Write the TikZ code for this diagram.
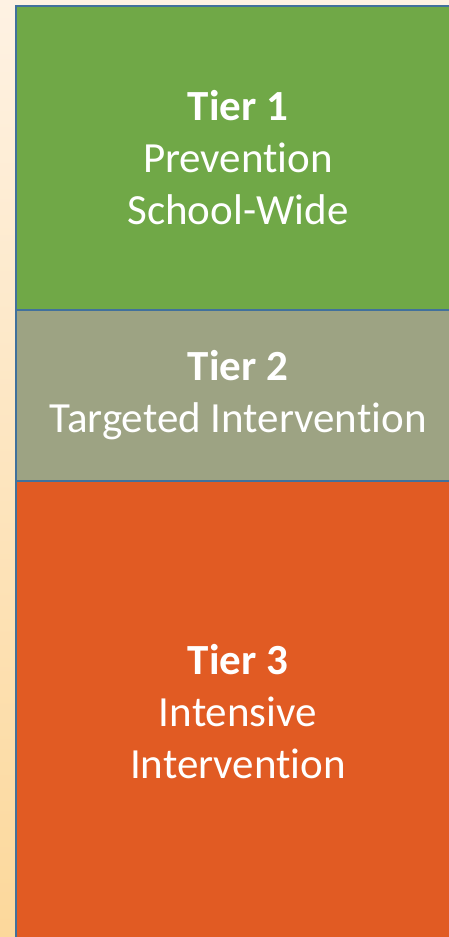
\documentclass[tikz,border=0pt]{standalone}
\usepackage{fontspec}
\setmainfont[Ligatures=NoCommon]{Carlito}
\definecolor{fundoTopo}{HTML}{FEF2E3}
\definecolor{fundoBase}{HTML}{FCD89B}
\definecolor{borda}{HTML}{41719C}
\definecolor{verde}{HTML}{70A847}
\definecolor{oliva}{HTML}{9DA383}
\definecolor{laranja}{HTML}{E15B23}
\tikzset{
  nivel/.style={draw=borda, line width=2pt, anchor=north west, minimum width=444pt,
    text=white, align=center, inner sep=0pt,
    font=\fontsize{43}{52}\selectfont}
}
\begin{document}
\begin{tikzpicture}[x=1pt, y=-1pt]
        \useasboundingbox (0,0) rectangle (449,937);
        \clip (0,0) rectangle (449,937);
        \shade[top color=fundoTopo, bottom color=fundoBase] (0,0) rectangle (449,937); % Fundo
        \node[nivel, fill=verde, minimum height=304pt] (tier1) at (15,5)
          {\textbf{Tier 1}\\Prevention\\School-Wide}; % Nivel 1
        \node[nivel, fill=oliva, minimum height=171pt] (tier2) at (15,309)
          {\textbf{Tier 2}\\Targeted Intervention}; % Nivel 2
        \node[nivel, fill=laranja, minimum height=462pt] (tier3) at (15,480)
          {\textbf{Tier 3}\\Intensive\\ Intervention}; % Nivel 3
    \end{tikzpicture}
\end{document}
